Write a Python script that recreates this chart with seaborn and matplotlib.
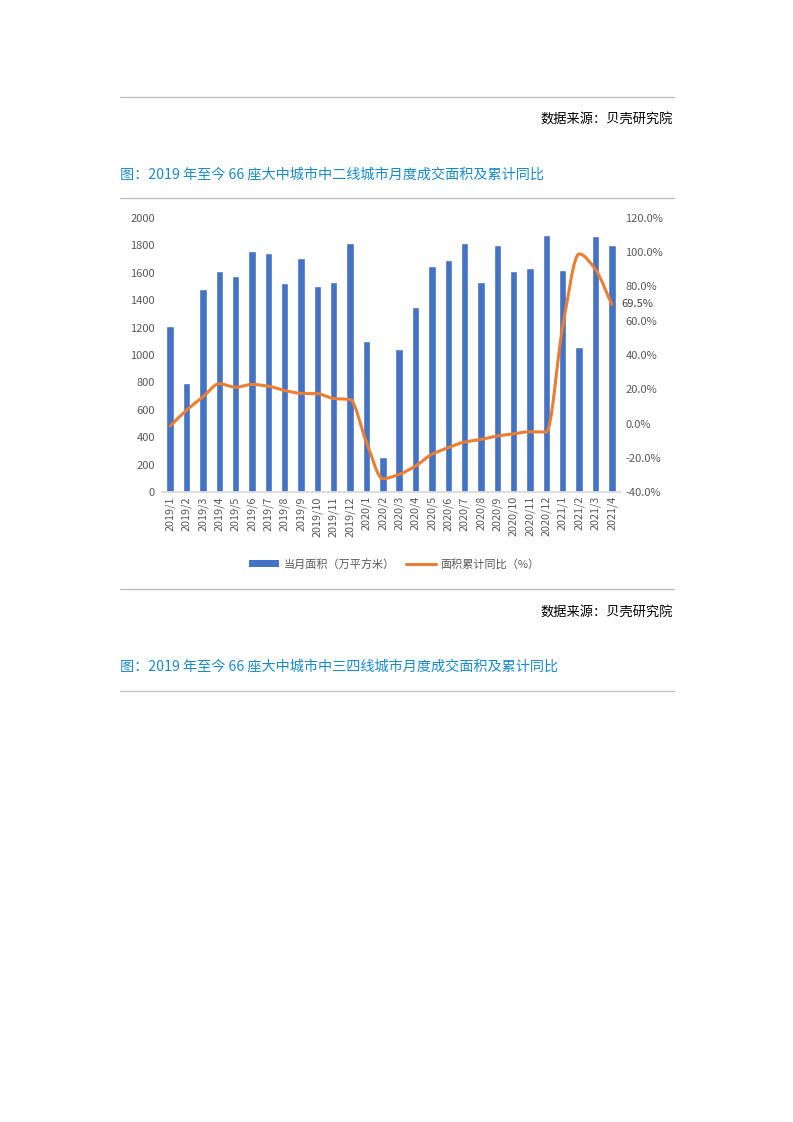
import numpy as np
import pandas as pd
import seaborn as sns
import matplotlib.pyplot as plt
from matplotlib.path import Path
from matplotlib.patches import PathPatch, Patch
from matplotlib.lines import Line2D

# data
months = ["2019/1", "2019/2", "2019/3", "2019/4", "2019/5", "2019/6", "2019/7",
          "2019/8", "2019/9", "2019/10", "2019/11", "2019/12",
          "2020/1", "2020/2", "2020/3", "2020/4", "2020/5", "2020/6", "2020/7",
          "2020/8", "2020/9", "2020/10", "2020/11", "2020/12",
          "2021/1", "2021/2", "2021/3", "2021/4"]
area = [1213, 793, 1484, 1615, 1579, 1761, 1746, 1527, 1710, 1506, 1535, 1820,
        1105, 258, 1046, 1354, 1652, 1696, 1820, 1536, 1806, 1616, 1638, 1878,
        1623, 1062, 1871, 1806]
yoy = [-1.5, 7.8, 15.5, 23.2, 21.2, 22.8, 21.8, 19.3, 17.6, 17.4, 14.6, 14.0,
       -11.0, -32.2, -29.7, -24.8, -18.0, -14.1, -10.8, -9.3, -7.3, -6.0, -4.8, -5.0,
       56.8, 99.0, 89.9, 69.5]
left_ticks = list(range(0, 2001, 200))
right_ticks = [-40, -20, 0, 20, 40, 60, 80, 100, 120]

bar_label = "当月面积（万平方米）"
line_label = "面积累计同比（%）"

sns.set_theme(style="white")
plt.rcParams["font.family"] = ["Noto Sans CJK SC", "DejaVu Sans"]

blue = "#4472C4"
orange = "#ED7D31"
grey_txt = "#595959"
rule = "#BFBFBF"
title_blue = "#1A8AD0"

fig = plt.figure(figsize=(7.93, 11.22), dpi=100)
W, H = 793, 1122


def fx(px):
    return px / W


def fy(py):
    return 1 - py / H


# page furniture: rules, source notes and titles
for y in [97, 198, 589, 691]:
    fig.add_artist(Line2D([fx(120), fx(674)], [fy(y), fy(y)], color=rule, lw=1))
for y in [120, 613]:
    fig.text(fx(673), fy(y), "数据来源：贝壳研究院", ha="right", va="center",
             fontsize=9.5, color="#000000")
fig.text(fx(120), fy(175), "图：2019 年至今 66 座大中城市中二线城市月度成交面积及累计同比",
         ha="left", va="center", fontsize=10.2, color=title_blue)
fig.text(fx(120), fy(667), "图：2019 年至今 66 座大中城市中三四线城市月度成交面积及累计同比",
         ha="left", va="center", fontsize=10.2, color=title_blue)

# chart
ax = fig.add_axes([fx(162), fy(492), fx(620) - fx(162), fy(218) - fy(492)])
df = pd.DataFrame({"month": months, "area": area, "yoy": yoy})
sns.barplot(data=df, x="month", y="area", color=blue, width=0.45, saturation=1,
            ax=ax)
ax.set_xlim(-0.5, len(months) - 0.5)
ax.set_ylim(0, 2000)
ax.set_yticks(left_ticks)
ax.set_xlabel("")
ax.set_ylabel("")
ax.tick_params(axis="y", labelsize=8, colors=grey_txt, length=0, pad=5)
ax.tick_params(axis="x", labelsize=7.8, colors=grey_txt, length=0, pad=3,
               labelrotation=90)
ax.set_xticks(np.arange(-0.5, len(months)), minor=True)
ax.tick_params(axis="x", which="minor", length=4, color="#D9D9D9", width=0.8)
for s in ["top", "right", "left"]:
    ax.spines[s].set_visible(False)
ax.spines["bottom"].set_color("#D9D9D9")

ax2 = ax.twinx()
ax2.set_ylim(-40, 120)
ax2.set_yticks(right_ticks)
ax2.set_yticklabels([f"{v:.1f}%" for v in right_ticks])
ax2.tick_params(axis="y", labelsize=8, colors=grey_txt, length=0, pad=4)
for s in ax2.spines.values():
    s.set_visible(False)
ax2.grid(False)
ax.grid(False)

# smoothed line drawn as cubic Bezier; monotone tangents avoid overshoot
xs = np.arange(len(yoy), dtype=float)
ys = np.array(yoy, dtype=float)
n = len(ys)
d = np.diff(ys)
m = np.zeros(n)
m[0], m[-1] = d[0], d[-1]
for i in range(1, n - 1):
    if d[i - 1] * d[i] > 0:
        m[i] = 2 * d[i - 1] * d[i] / (d[i - 1] + d[i])
verts = [(xs[0], ys[0])]
codes = [Path.MOVETO]
for i in range(n - 1):
    verts += [(xs[i] + 1 / 3, ys[i] + m[i] / 3),
              (xs[i + 1] - 1 / 3, ys[i + 1] - m[i + 1] / 3),
              (xs[i + 1], ys[i + 1])]
    codes += [Path.CURVE4] * 3
ax2.add_patch(PathPatch(Path(verts, codes), fill=False, edgecolor=orange, lw=2.2,
                        capstyle="round", joinstyle="round"))
ax2.annotate(f"{yoy[-1]:.1f}%", (xs[-1], ys[-1]), xytext=(7, 0),
             textcoords="offset points", ha="left", va="center",
             fontsize=8, color="#404040")

handles = [Patch(facecolor=blue, edgecolor="none"),
           Line2D([0], [0], color=orange, lw=2.2)]
fig.legend(handles, [bar_label, line_label], loc="center",
           bbox_to_anchor=(fx(394), fy(564)), ncol=2, frameon=False,
           fontsize=8, labelcolor=grey_txt, handlelength=2.7,
           handleheight=0.7, columnspacing=1.0, handletextpad=0.4)

fig.savefig("out.png", dpi=100)
